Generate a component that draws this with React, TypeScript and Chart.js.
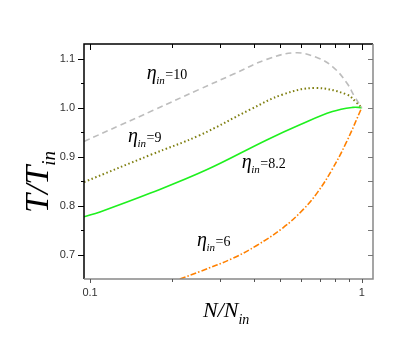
import React, { useEffect, useRef } from "react";
import { Chart, registerables } from "chart.js";

Chart.register(...registerables);

// η_in = 10 (grey dashed)
const n10 = [0.095, 0.129, 0.17, 0.254, 0.336, 0.447, 0.568, 0.68, 0.78, 0.88, 0.94, 1.0];
const t10 = [0.931, 0.964, 0.994, 1.038, 1.068, 1.0986, 1.112, 1.103, 1.084, 1.051, 1.023, 1.0];
// η_in = 9 (olive dotted)
const n9 = [0.095, 0.166, 0.254, 0.388, 0.513, 0.673, 0.88, 0.958, 1.0];
const t9 = [0.848, 0.903, 0.944, 0.996, 1.027, 1.04, 1.027, 1.01, 1.0];
// η_in = 8.2 (green solid)
const n82 = [0.095, 0.1088, 0.166, 0.2685, 0.447, 0.592, 0.78, 0.927, 1.0];
const t82 = [0.777, 0.787, 0.825, 0.873, 0.934, 0.965, 0.992, 1.0006, 1.0];
// η_in = 6 (orange dash-dot)
const n6 = [0.214, 0.254, 0.336, 0.4107, 0.513, 0.608, 0.6906, 0.775, 0.8754, 1.0];
const t6 = [0.65, 0.6653, 0.6926, 0.7185, 0.7546, 0.7916, 0.8285, 0.8721, 0.9279, 1.0];

const xMajor = [0.1, 1];
const xMinor = [0.2, 0.3, 0.4, 0.5, 0.6, 0.7, 0.8, 0.9];
const yMajor = [0.7, 0.8, 0.9, 1.0, 1.1];
const yMinor = [0.75, 0.85, 0.95, 1.05];

const labelTexts = ["10", "9", "8.2", "6"];
const labelN = [0.1617, 0.138, 0.3617, 0.2476];
const labelT = [1.0575, 0.93, 0.877, 0.7166];

const toPts = (xs: number[], ys: number[]) => xs.map((x, i) => ({ x, y: ys[i] }));

const serif = '"Liberation Serif", "Times New Roman", serif';

const decor = {
  id: "decor",
  afterDraw(chart: any) {
    const { ctx, chartArea: a, scales } = chart;
    const xs = scales.x;
    const ys = scales.y;
    ctx.save();
    // frame
    ctx.lineWidth = 1.5;
    ctx.strokeStyle = "#000";
    ctx.beginPath();
    ctx.moveTo(a.left, a.bottom);
    ctx.lineTo(a.left, a.top);
    ctx.lineTo(a.right, a.top);
    ctx.stroke();
    ctx.strokeStyle = "#888";
    ctx.beginPath();
    ctx.moveTo(a.right, a.top);
    ctx.lineTo(a.right, a.bottom);
    ctx.lineTo(a.left, a.bottom);
    ctx.stroke();
    // ticks
    ctx.lineWidth = 1;
    const vt = (v: number, len: number, col: string, y0: number, dir: number) => {
      const px = Math.round(xs.getPixelForValue(v)) + 0.5;
      ctx.strokeStyle = col;
      ctx.beginPath();
      ctx.moveTo(px, y0);
      ctx.lineTo(px, y0 + dir * len);
      ctx.stroke();
    };
    const ht = (v: number, len: number, col: string, x0: number, dir: number) => {
      const py = Math.round(ys.getPixelForValue(v)) + 0.5;
      ctx.strokeStyle = col;
      ctx.beginPath();
      ctx.moveTo(x0, py);
      ctx.lineTo(x0 + dir * len, py);
      ctx.stroke();
    };
    xMajor.forEach((v) => { vt(v, 6, "#000", a.top, 1); vt(v, 4, "#555", a.bottom, 1); });
    xMinor.forEach((v) => { vt(v, 4, "#000", a.top, 1); vt(v, 3, "#555", a.bottom, 1); });
    yMajor.forEach((v) => { ht(v, 6, "#000", a.left, -1); ht(v, 5, "#777", a.right, -1); });
    yMinor.forEach((v) => { ht(v, 3, "#000", a.left, -1); ht(v, 5, "#777", a.right, -1); });

    // curve labels
    ctx.fillStyle = "#000";
    ctx.textBaseline = "alphabetic";
    ctx.textAlign = "left";
    labelTexts.forEach((t, i) => {
      const x = xs.getPixelForValue(labelN[i]);
      const y = ys.getPixelForValue(labelT[i]);
      ctx.font = `italic 20px ${serif}`;
      ctx.fillText("η", x, y);
      const w1 = ctx.measureText("η").width;
      ctx.font = `italic 11px ${serif}`;
      ctx.fillText("in", x + w1 - 0.5, y + 5);
      const w2 = ctx.measureText("in").width;
      ctx.font = `14px ${serif}`;
      ctx.fillText("=" + t, x + w1 + w2, y);
    });

    // x title
    ctx.font = `italic 22px ${serif}`;
    ctx.fillText("N/N", 203, 317);
    const wx = ctx.measureText("N/N").width;
    ctx.font = `italic 14px ${serif}`;
    ctx.fillText("in", 203 + wx, 324);

    // y title
    ctx.translate(48, 213);
    ctx.rotate(-Math.PI / 2);
    ctx.font = `italic 34px ${serif}`;
    ctx.fillText("T/T", 0, 0);
    const wy = ctx.measureText("T/T").width;
    ctx.font = `italic 19px ${serif}`;
    ctx.fillText("in", wy, 7);
    ctx.restore();
  },
};

export default function App() {
  const ref = useRef<HTMLCanvasElement>(null);
  useEffect(() => {
    if (!ref.current) return;
    const common = { showLine: true, pointRadius: 0, tension: 0.4, borderWidth: 1.6 };
    const chart = new Chart(ref.current, {
      type: "scatter",
      data: {
        datasets: [
          { ...common, data: toPts(n10, t10), borderColor: "#bdbdbd", borderDash: [6, 4] },
          { ...common, data: toPts(n9, t9), borderColor: "#7f7f10", borderWidth: 2, borderDash: [1.5, 2.5] },
          { ...common, data: toPts(n82, t82), borderColor: "#1ef01e" },
          { ...common, data: toPts(n6, t6), borderColor: "#ff8000", borderDash: [6, 2, 1.5, 2] },
        ],
      } as any,
      options: {
        animation: false,
        responsive: false,
        events: [],
        layout: { padding: { left: 0, top: 44, right: 42, bottom: 0 } },
        plugins: { legend: { display: false }, tooltip: { enabled: false } },
        scales: {
          x: {
            type: "logarithmic",
            min: 0.095,
            max: 1.1,
            grid: { display: false, drawTicks: false },
            border: { display: false },
            afterBuildTicks: (s: any) => { s.ticks = xMajor.map((v) => ({ value: v })); },
            afterFit: (s: any) => { s.height = 72; },
            ticks: {
              autoSkip: false,
              maxRotation: 0,
              padding: 7,
              color: "#333",
              font: { family: '"Liberation Sans", Arial, sans-serif', size: 11 },
              callback: (v: any) => String(v),
            },
          },
          y: {
            type: "linear",
            min: 0.65,
            max: 1.13,
            grid: { display: false, drawTicks: false },
            border: { display: false },
            afterBuildTicks: (s: any) => { s.ticks = yMajor.map((v) => ({ value: v })); },
            afterFit: (s: any) => { s.width = 84; },
            ticks: {
              padding: 9,
              color: "#333",
              font: { family: '"Liberation Sans", Arial, sans-serif', size: 11 },
              callback: (v: any) => Number(v).toFixed(1),
            },
          },
        },
      } as any,
      plugins: [decor],
    });
    return () => chart.destroy();
  }, []);
  return (
    <div style={{ position: "absolute", left: 0, top: 0, width: 415, height: 351, background: "#fff" }}>
      <canvas ref={ref} width={415} height={351} />
    </div>
  );
}
